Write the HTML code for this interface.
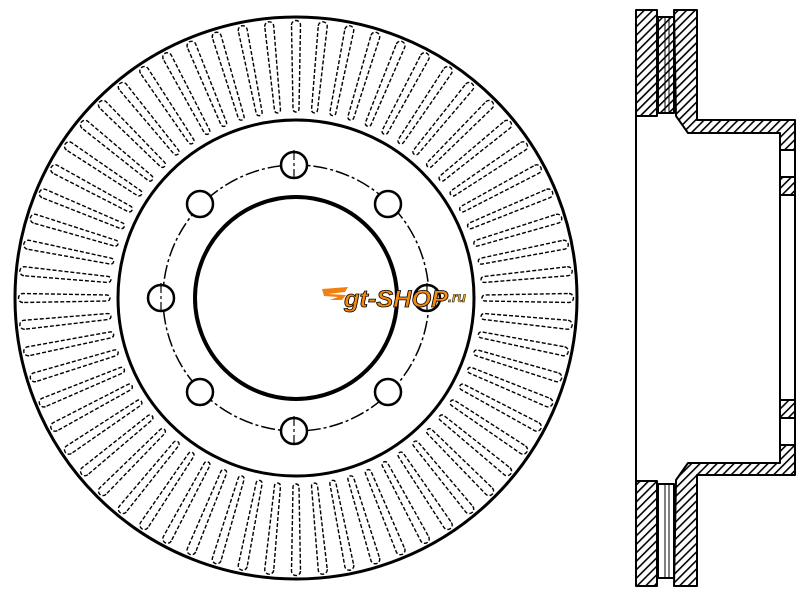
<!DOCTYPE html>
<html><head><meta charset="utf-8"><style>
html,body{margin:0;padding:0;background:#fff;width:800px;height:595px;overflow:hidden}
svg{display:block}
</style></head><body>
<svg width="800" height="595" viewBox="0 0 800 595" xmlns="http://www.w3.org/2000/svg">
<defs>
<pattern id="h" patternUnits="userSpaceOnUse" width="6" height="6" patternTransform="rotate(45)">
<rect width="6" height="6" fill="#fff"/><line x1="0" y1="0" x2="0" y2="6" stroke="#000" stroke-width="3.2"/>
</pattern>
<path id="s" d="M291.5,25 A4.5,4.5 0 0 1 300.5,25 L299,109 A3,3 0 0 1 293,109 Z" fill="none" stroke="#000" stroke-width="1.4" stroke-dasharray="4 2"/>
</defs>
<circle cx="296" cy="298" r="281" fill="none" stroke="#000" stroke-width="3"/>
<circle cx="296" cy="298" r="178" fill="none" stroke="#000" stroke-width="3"/>
<circle cx="296" cy="298" r="133" fill="none" stroke="#000" stroke-width="1.5" stroke-dasharray="14 3 3 3"/>
<circle cx="296" cy="298" r="101" fill="none" stroke="#000" stroke-width="4"/>
<g fill="#fff" stroke="#000" stroke-width="2.5">
<circle cx="294" cy="165" r="13"/><circle cx="388" cy="204" r="13"/><circle cx="427" cy="298" r="13"/><circle cx="388" cy="392" r="13"/>
<circle cx="294" cy="431" r="13"/><circle cx="200" cy="392" r="13"/><circle cx="161" cy="298" r="13"/><circle cx="200" cy="204" r="13"/>
</g>
<g stroke="#000" stroke-width="1.2" stroke-dasharray="10 3 3 3">
<line x1="294" y1="150" x2="294" y2="180"/><line x1="161" y1="283" x2="161" y2="313"/><line x1="427" y1="283" x2="427" y2="313"/><line x1="294" y1="416" x2="294" y2="446"/>
</g>
<g>
<use href="#s" transform="rotate(0 296 298)"/><use href="#s" transform="rotate(5.625 296 298)"/><use href="#s" transform="rotate(11.25 296 298)"/><use href="#s" transform="rotate(16.875 296 298)"/><use href="#s" transform="rotate(22.5 296 298)"/><use href="#s" transform="rotate(28.125 296 298)"/><use href="#s" transform="rotate(33.75 296 298)"/><use href="#s" transform="rotate(39.375 296 298)"/>
<use href="#s" transform="rotate(45 296 298)"/><use href="#s" transform="rotate(50.625 296 298)"/><use href="#s" transform="rotate(56.25 296 298)"/><use href="#s" transform="rotate(61.875 296 298)"/><use href="#s" transform="rotate(67.5 296 298)"/><use href="#s" transform="rotate(73.125 296 298)"/><use href="#s" transform="rotate(78.75 296 298)"/><use href="#s" transform="rotate(84.375 296 298)"/>
<use href="#s" transform="rotate(90 296 298)"/><use href="#s" transform="rotate(95.625 296 298)"/><use href="#s" transform="rotate(101.25 296 298)"/><use href="#s" transform="rotate(106.875 296 298)"/><use href="#s" transform="rotate(112.5 296 298)"/><use href="#s" transform="rotate(118.125 296 298)"/><use href="#s" transform="rotate(123.75 296 298)"/><use href="#s" transform="rotate(129.375 296 298)"/>
<use href="#s" transform="rotate(135 296 298)"/><use href="#s" transform="rotate(140.625 296 298)"/><use href="#s" transform="rotate(146.25 296 298)"/><use href="#s" transform="rotate(151.875 296 298)"/><use href="#s" transform="rotate(157.5 296 298)"/><use href="#s" transform="rotate(163.125 296 298)"/><use href="#s" transform="rotate(168.75 296 298)"/><use href="#s" transform="rotate(174.375 296 298)"/>
<use href="#s" transform="rotate(180 296 298)"/><use href="#s" transform="rotate(185.625 296 298)"/><use href="#s" transform="rotate(191.25 296 298)"/><use href="#s" transform="rotate(196.875 296 298)"/><use href="#s" transform="rotate(202.5 296 298)"/><use href="#s" transform="rotate(208.125 296 298)"/><use href="#s" transform="rotate(213.75 296 298)"/><use href="#s" transform="rotate(219.375 296 298)"/>
<use href="#s" transform="rotate(225 296 298)"/><use href="#s" transform="rotate(230.625 296 298)"/><use href="#s" transform="rotate(236.25 296 298)"/><use href="#s" transform="rotate(241.875 296 298)"/><use href="#s" transform="rotate(247.5 296 298)"/><use href="#s" transform="rotate(253.125 296 298)"/><use href="#s" transform="rotate(258.75 296 298)"/><use href="#s" transform="rotate(264.375 296 298)"/>
<use href="#s" transform="rotate(270 296 298)"/><use href="#s" transform="rotate(275.625 296 298)"/><use href="#s" transform="rotate(281.25 296 298)"/><use href="#s" transform="rotate(286.875 296 298)"/><use href="#s" transform="rotate(292.5 296 298)"/><use href="#s" transform="rotate(298.125 296 298)"/><use href="#s" transform="rotate(303.75 296 298)"/><use href="#s" transform="rotate(309.375 296 298)"/>
<use href="#s" transform="rotate(315 296 298)"/><use href="#s" transform="rotate(320.625 296 298)"/><use href="#s" transform="rotate(326.25 296 298)"/><use href="#s" transform="rotate(331.875 296 298)"/><use href="#s" transform="rotate(337.5 296 298)"/><use href="#s" transform="rotate(343.125 296 298)"/><use href="#s" transform="rotate(348.75 296 298)"/><use href="#s" transform="rotate(354.375 296 298)"/>
</g>
<!-- logo -->
<g font-family="Liberation Sans, sans-serif" font-weight="bold" font-style="italic">
<path d="M322,289 L348,287 L345,292 L328,294 L346,295 L342,300 L330,300 L338,297 L324,296 Z" fill="#f08010"/>
<text x="344" y="307" font-size="24" fill="#f58a10" stroke="#000" stroke-width="0.8" textLength="104" lengthAdjust="spacingAndGlyphs">gt-SHOP</text>
<text x="448" y="302" font-size="14" fill="#f5b010" stroke="#000" stroke-width="0.5">.ru</text>
</g>
<!-- side view -->
<g stroke="#000" stroke-width="2" stroke-linejoin="round">
<rect x="636" y="10" width="21" height="106" fill="url(#h)"/>
<rect x="658" y="17" width="16" height="96" fill="url(#h)"/>
<path d="M674,10 L697,10 L697,120 L795,120 L795,150 L780,150 L780,133 L688,133 L676,116 Z" fill="url(#h)"/>
<rect x="780" y="177" width="15" height="18" fill="url(#h)"/>
<rect x="780" y="150" width="15" height="27" fill="#fff"/>
<line x1="665" y1="17" x2="665" y2="113" stroke-width="1"/>
<line x1="669" y1="17" x2="669" y2="113" stroke-width="1"/>
<rect x="636" y="481" width="21" height="105" fill="url(#h)"/>
<rect x="658" y="484" width="16" height="94" fill="#fff"/>
<path d="M674,586 L697,586 L697,475 L795,475 L795,445 L780,445 L780,463 L688,463 L676,480 Z" fill="url(#h)"/>
<rect x="780" y="400" width="15" height="18" fill="url(#h)"/>
<rect x="780" y="418" width="15" height="27" fill="#fff"/>
<line x1="665" y1="484" x2="665" y2="578" stroke-width="1"/>
<line x1="669" y1="484" x2="669" y2="578" stroke-width="1"/>
<line x1="636" y1="116" x2="636" y2="481"/>
<line x1="780" y1="195" x2="780" y2="400"/>
<line x1="795" y1="195" x2="795" y2="400"/>
</g>
</svg>
</body></html>
